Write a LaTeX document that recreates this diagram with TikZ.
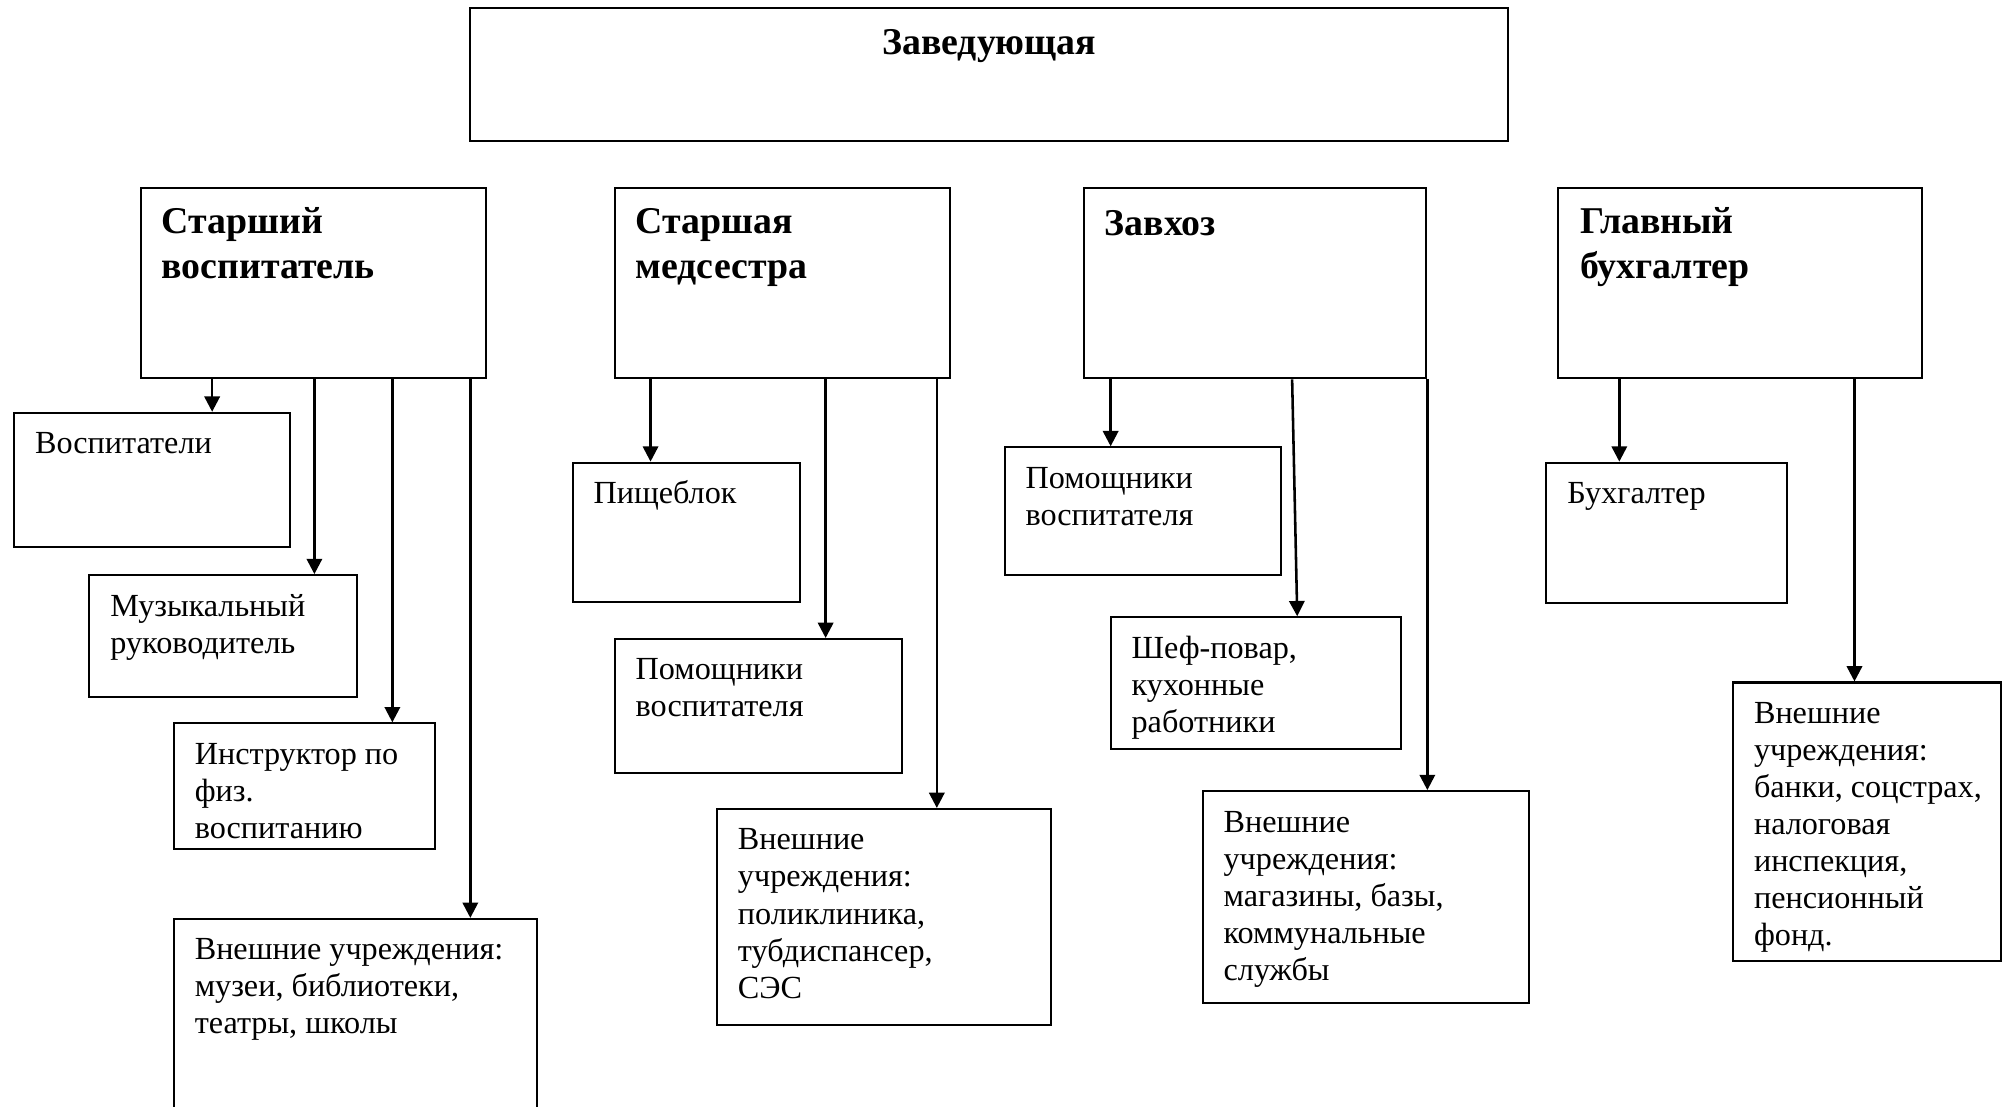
\documentclass[tikz,border=0pt]{standalone}
\usepackage{fontspec}
\setmainfont{Liberation Serif}
\usetikzlibrary{fit,arrows.meta,calc}
\newcommand\bodyf{\fontsize{12.6}{14.5}\selectfont}
\newcommand\headf{\fontsize{14.8}{17.5}\selectfont\bfseries}
\newcommand\ml[1]{\begin{tabular}[t]{@{}l@{}}#1\end{tabular}}
\tikzset{
  box/.style={draw, line width=0.8pt, inner sep=0pt},
  txt/.style={anchor=base west, inner sep=0pt, font=\bodyf},
  hd/.style={anchor=base west, inner sep=0pt, font=\headf},
  arr/.style={line width=1pt, -{Triangle[length=6pt,width=6pt]}},
}
\begin{document}
\begin{tikzpicture}[x=0.5pt,y=-0.5pt]
\useasboundingbox (0,0) rectangle (1568,866);
\clip (0,0) rectangle (1568,866);
\fill[white] (0,0) rectangle (1568,866);
% top
\node[box, fit={(368,6) (1180,110)}] (top) {};
\node[hd, anchor=base] (topt) at (774,43) {Заведующая};
% level 2
\node[box, fit={(110,147) (380,296)}] (A) {};
\node[hd] (At) at (126,183) {\ml{Старший\\воспитатель}};
\node[box, fit={(481,147) (743,296)}] (B) {};
\node[hd] (Bt) at (497,183) {\ml{Старшая\\медсестра}};
\node[box, fit={(848,147) (1116,296)}] (C) {};
\node[hd] (Ct) at (864,184) {Завхоз};
\node[box, fit={(1219,147) (1504,296)}] (D) {};
\node[hd] (Dt) at (1236,183) {\ml{Главный\\бухгалтер}};
% column A
\node[box, fit={(11,323) (227,428)}] (a1) {};
\node[txt] (a1t) at (27,355) {Воспитатели};
\node[box, fit={(70,450) (279,545)}] (a2) {};
\node[txt] (a2t) at (86,482) {\ml{Музыкальный\\руководитель}};
\node[box, fit={(136,566) (340,664)}] (a3) {};
\node[txt] (a3t) at (152,598) {\ml{Инструктор по\\физ.\\воспитанию}};
\node[box, fit={(136,719) (420,900)}] (a4) {};
\node[txt] (a4t) at (152,751) {\ml{Внешние учреждения:\\музеи, библиотеки,\\театры, школы}};
% column B
\node[box, fit={(448,362) (626,471)}] (b1) {};
\node[txt] (b1t) at (464,394) {Пищеблок};
\node[box, fit={(481,500) (706,605)}] (b2) {};
\node[txt] (b2t) at (497,532) {\ml{Помощники\\воспитателя}};
\node[box, fit={(561,633) (822,802)}] (b3) {};
\node[txt] (b3t) at (577,665) {\ml{Внешние\\учреждения:\\поликлиника,\\тубдиспансер,\\СЭС}};
% column C
\node[box, fit={(786,350) (1002,450)}] (c1) {};
\node[txt] (c1t) at (802,382) {\ml{Помощники\\воспитателя}};
\node[box, fit={(869,483) (1096,586)}] (c2) {};
\node[txt] (c2t) at (885,515) {\ml{Шеф-повар,\\кухонные\\работники}};
\node[box, fit={(941,619) (1196,785)}] (c3) {};
\node[txt] (c3t) at (957,651) {\ml{Внешние\\учреждения:\\магазины, базы,\\коммунальные\\службы}};
% column D
\node[box, fit={(1210,362) (1398,472)}] (d1) {};
\node[txt] (d1t) at (1226,394) {Бухгалтер};
\node[box, fit={(1356,534) (1566,752)}] (d2) {};
\node[txt] (d2t) at (1372,566) {\ml{Внешние\\учреждения:\\банки, соцстрах,\\налоговая\\инспекция,\\пенсионный\\фонд.}};
% arrows
\draw[arr] (A.south -| 166,0) -- (a1.north -| 166,0);
\draw[arr] (A.south -| 246,0) -- (a2.north -| 246,0);
\draw[arr] (A.south -| 307,0) -- (a3.north -| 307,0);
\draw[arr] (A.south -| 368,0) -- (a4.north -| 368,0);
\draw[arr] (B.south -| 509,0) -- (b1.north -| 509,0);
\draw[arr] (B.south -| 646,0) -- (b2.north -| 646,0);
\draw[arr] (B.south -| 733,0) -- (b3.north -| 733,0);
\draw[arr] (C.south -| 869,0) -- (c1.north -| 869,0);
\draw[arr] (C.south -| 1011,0) -- (c2.north -| 1015,0);
\draw[arr] (C.south east) -- (c3.north -| C.south east);
\draw[arr] (D.south -| 1267,0) -- (d1.north -| 1267,0);
\draw[arr] (D.south -| 1451,0) -- (d2.north -| 1451,0);
\end{tikzpicture}
\end{document}
